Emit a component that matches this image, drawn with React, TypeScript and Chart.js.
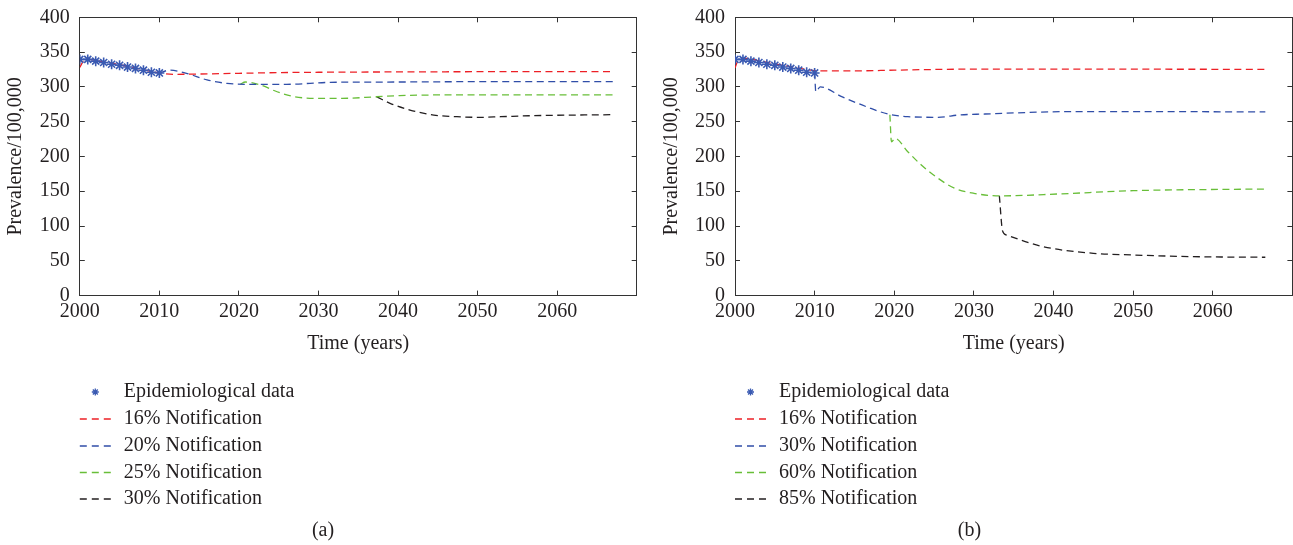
import React, { useEffect, useRef } from "react";
import { Chart, registerables } from "chart.js";

Chart.register(...registerables);

const FONT = "'Liberation Serif', 'Times New Roman', serif";
const TEXT = "#231f20";
const AXIS = "#333333";

const RED = "rgb(237,32,38)";
const BLUE = "rgb(48,78,168)";
const GREEN = "rgb(104,190,56)";
const BLACK = "rgb(35,31,32)";
const STAR = "rgb(58,90,178)";

// axis settings
const xMin = 2000;
const xMax = 2070;
const xStep = 10;
const yMin = 0;
const yMax = 400;
const yStep = 50;

// Epidemiological data (both panels)
const epiYears = [2000, 2001, 2002, 2003, 2004, 2005, 2006, 2007, 2008, 2009, 2010];
const epiValues = [339.5, 339.5, 337, 335, 332.5, 331, 328.5, 326.5, 324, 321, 320];

// Panel (a)
const aLabels = ["Epidemiological data", "16% Notification", "20% Notification", "25% Notification", "30% Notification"];
const a16Years = [2000, 2000.5, 2001, 2002, 2004, 2006, 2008, 2010, 2012, 2015, 2020, 2025, 2030, 2040, 2050, 2067];
const a16Values = [328, 338, 340, 338, 334, 329.5, 324.5, 320, 318, 318.5, 319.5, 320.5, 321, 321.5, 321.8, 322];
const a20Years = [2010, 2011.3, 2013.4, 2016, 2018.5, 2021, 2026, 2031.5, 2040, 2050, 2067];
const a20Values = [320, 324, 319.5, 310, 305, 303.7, 303.7, 306.5, 307, 307.5, 307.5];
const a25Years = [2020.2, 2020.8, 2022.7, 2024.8, 2026.9, 2030, 2033, 2037.3, 2040.2, 2048.6, 2067];
const a25Values = [304, 307, 302.7, 293, 286, 283.5, 283.5, 285.8, 287.4, 288.6, 288.5];
const a30Years = [2037.3, 2039, 2041.5, 2044.5, 2047.4, 2050.3, 2052.9, 2057, 2066.7];
const a30Values = [285.9, 276.4, 266.7, 259.5, 257.1, 256.2, 257.1, 258.6, 260];

// Panel (b)
const bLabels = ["Epidemiological data", "16% Notification", "30% Notification", "60% Notification", "85% Notification"];
const b16Years = [2000, 2000.4, 2001.5, 2003, 2005, 2007, 2009, 2010, 2012, 2015, 2020, 2025, 2030, 2040, 2067];
const b16Values = [327, 338, 341, 337.5, 333, 329, 325, 323.5, 323, 323, 324, 325, 325.5, 325.5, 325.2];
const b30Years = [2010, 2010.15, 2010.7, 2013.4, 2016.7, 2019.2, 2021.7, 2025.5, 2028.2, 2031.4, 2035, 2040.8, 2050, 2066.6];
const b30Values = [321, 293, 300, 286, 270.6, 261, 257.2, 256.3, 259.7, 261, 262.5, 264.3, 264.5, 264];
const b60Years = [2019.45, 2019.65, 2020.1, 2021.7, 2023.4, 2025.5, 2027.6, 2030, 2033.2, 2040.8, 2050, 2066.6];
const b60Values = [260, 221, 226, 206.8, 187.7, 168.6, 154.2, 147, 143.3, 146.2, 150.8, 153.2];
const b85Years = [2033.2, 2033.6, 2034.1, 2038.7, 2045, 2050, 2057.5, 2066.6];
const b85Values = [143.3, 93, 87, 70.4, 60.8, 58.4, 56, 55.1];

const seriesColors = [RED, BLUE, GREEN, BLACK];

function pts(xs: number[], ys: number[]) {
  return xs.map((x, i) => ({ x, y: ys[i] }));
}

type PanelProps = {
  left: number;
  width: number;
  captionX: number;
  padLeft: number;
  yAxisWidth: number;
  rightWidth: number;
  labels: string[];
  lines: { x: number; y: number }[][];
  caption: string;
};

function drawStar(ctx: CanvasRenderingContext2D, x: number, y: number, r: number) {
  ctx.beginPath();
  for (let k = 0; k < 4; k++) {
    const a = (k * Math.PI) / 4;
    ctx.moveTo(x - Math.cos(a) * r, y - Math.sin(a) * r);
    ctx.lineTo(x + Math.cos(a) * r, y + Math.sin(a) * r);
  }
  ctx.stroke();
}

function noPad(s: any) {
  s.paddingTop = 0;
  s.paddingBottom = 0;
  s.paddingLeft = 0;
  s.paddingRight = 0;
}

function Panel(props: PanelProps) {
  const ref = useRef<HTMLCanvasElement | null>(null);
  useEffect(() => {
    if (!ref.current) return;
    const overlay = {
      id: "overlay",
      afterDraw(chart: any) {
        const ctx = chart.ctx as CanvasRenderingContext2D;
        const ca = chart.chartArea;
        ctx.save();
        ctx.fillStyle = TEXT;
        ctx.font = `20px ${FONT}`;
        ctx.textBaseline = "middle";
        ctx.textAlign = "center";
        ctx.fillText("Time (years)", (ca.left + ca.right) / 2, 344);
        ctx.fillText(props.caption, props.captionX, 531);
        // legend
        const x0 = ca.left;
        const rowY = [392, 419, 446, 472.5, 499];
        ctx.textAlign = "left";
        props.labels.forEach((lab, i) => {
          const y = rowY[i];
          if (i === 0) {
            ctx.strokeStyle = STAR;
            ctx.lineWidth = 1.3;
            drawStar(ctx, x0 + 15.5, y, 3.5);
          } else {
            ctx.strokeStyle = seriesColors[i - 1];
            ctx.lineWidth = 1.3;
            ctx.setLineDash([7, 5]);
            ctx.beginPath();
            ctx.moveTo(x0, y);
            ctx.lineTo(x0 + 31, y);
            ctx.stroke();
            ctx.setLineDash([]);
          }
          ctx.fillStyle = TEXT;
          ctx.fillText(lab, x0 + 44, y);
        });
        ctx.restore();
      },
    };

    const lineDs = props.lines.map((d, i) => ({
      type: "line" as const,
      data: d,
      borderColor: seriesColors[i],
      borderWidth: 1.3,
      borderDash: [7, 4.5],
      pointRadius: 0,
      fill: false,
      cubicInterpolationMode: "monotone" as const,
    }));

    const tickFont = { family: FONT, size: 20 };
    const grid = {
      display: true,
      drawOnChartArea: false,
      drawTicks: true,
      tickLength: -5,
      tickColor: AXIS,
      tickWidth: 1,
    };
    const border = { display: true, color: AXIS, width: 1 };

    const chart = new Chart(ref.current, {
      type: "line",
      data: {
        datasets: [
          {
            type: "line",
            data: pts(epiYears, epiValues),
            showLine: false,
            pointStyle: "star",
            pointRadius: 5,
            borderColor: STAR,
            backgroundColor: STAR,
            pointBorderWidth: 1.6,
          } as any,
          ...lineDs,
        ],
      },
      options: {
        animation: false,
        responsive: true,
        maintainAspectRatio: false,
        layout: { padding: { left: props.padLeft, right: 0, top: 0, bottom: 0 } },
        plugins: { legend: { display: false }, tooltip: { enabled: false } },
        scales: {
          x: {
            type: "linear",
            position: "bottom",
            min: xMin,
            max: xMax,
            grid,
            border,
            ticks: {
              stepSize: xStep,
              autoSkip: false,
              maxRotation: 0,
              padding: 9,
              color: TEXT,
              font: tickFont,
              callback: (v: any) => (v === xMax ? "" : String(v)),
            },
            afterFit: (s: any) => {
              s.height = 545 - 295.6;
              noPad(s);
            },
          },
          x2: {
            type: "linear",
            position: "top",
            min: xMin,
            max: xMax,
            grid,
            border,
            ticks: { stepSize: xStep, display: false },
            afterFit: (s: any) => {
              s.height = 17.3;
              noPad(s);
            },
          },
          y: {
            type: "linear",
            position: "left",
            min: yMin,
            max: yMax,
            grid,
            border,
            title: {
              display: true,
              text: "Prevalence/100,000",
              color: TEXT,
              font: { family: FONT, size: 20 },
              padding: { top: 4, bottom: 4 },
            },
            ticks: {
              stepSize: yStep,
              padding: 15,
              color: TEXT,
              font: tickFont,
              callback: (v: any) => String(v),
            },
            afterFit: (s: any) => {
              s.width = props.yAxisWidth;
              noPad(s);
            },
          },
          y2: {
            type: "linear",
            position: "right",
            min: yMin,
            max: yMax,
            grid,
            border,
            ticks: { stepSize: yStep, display: false },
            afterFit: (s: any) => {
              s.width = props.rightWidth;
              noPad(s);
            },
          },
        },
      } as any,
      plugins: [overlay],
    });
    return () => chart.destroy();
  }, []);

  return (
    <div
      style={{
        position: "absolute",
        left: props.left,
        top: 0,
        width: props.width,
        height: 545,
      }}
    >
      <canvas ref={ref} />
    </div>
  );
}

export default function App() {
  return (
    <div
      style={{
        position: "fixed",
        left: 0,
        top: 0,
        width: 1293,
        height: 545,
        background: "#ffffff",
        overflow: "hidden",
      }}
    >
      <Panel
        left={0}
        width={646}
        captionX={323}
        padLeft={0}
        yAxisWidth={79.8}
        rightWidth={9.3}
        labels={aLabels}
        lines={[pts(a16Years, a16Values), pts(a20Years, a20Values), pts(a25Years, a25Values), pts(a30Years, a30Values)]}
        caption="(a)"
      />
      <Panel
        left={646}
        width={653}
        captionX={323.5}
        padLeft={10}
        yAxisWidth={79}
        rightWidth={0.8}
        labels={bLabels}
        lines={[pts(b16Years, b16Values), pts(b30Years, b30Values), pts(b60Years, b60Values), pts(b85Years, b85Values)]}
        caption="(b)"
      />
    </div>
  );
}
